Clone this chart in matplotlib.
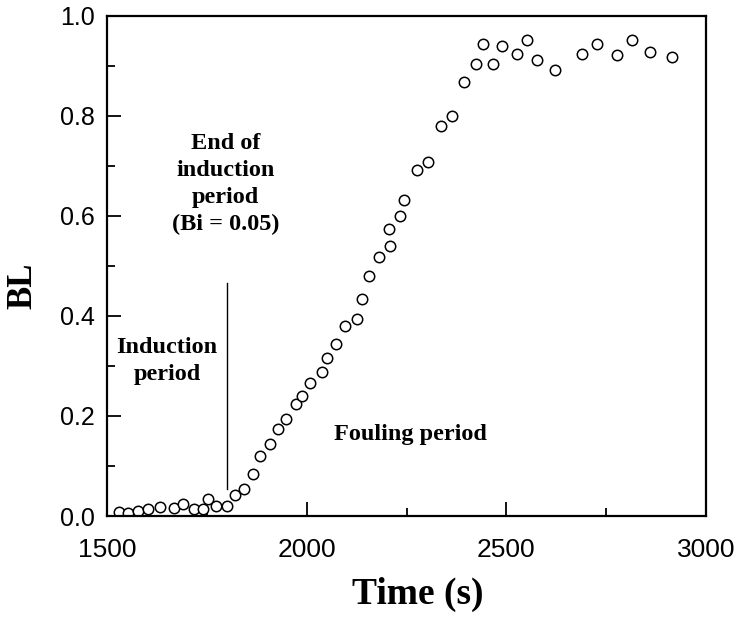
import matplotlib
matplotlib.use("Agg")
import matplotlib.pyplot as plt
from matplotlib.ticker import MultipleLocator

# time (s) and BL
time_s = [1531, 1553, 1578, 1603, 1633, 1668, 1690, 1718, 1741, 1754, 1773, 1801,
          1821, 1843, 1865, 1883, 1908, 1927, 1948, 1973, 1988, 2008,
          2038, 2050, 2073, 2096, 2127, 2138, 2156, 2182, 2209, 2207, 2234, 2244,
          2275, 2305, 2336, 2365, 2395, 2424, 2442, 2466, 2489, 2527, 2551, 2576,
          2623, 2689, 2727, 2776, 2815, 2860, 2914]
bl = [0.009, 0.007, 0.011, 0.014, 0.019, 0.017, 0.024, 0.015, 0.015, 0.034, 0.020, 0.020,
      0.042, 0.055, 0.085, 0.120, 0.143, 0.173, 0.194, 0.223, 0.240, 0.265,
      0.287, 0.316, 0.343, 0.379, 0.394, 0.434, 0.480, 0.517, 0.540, 0.573, 0.600, 0.631,
      0.691, 0.708, 0.779, 0.799, 0.867, 0.904, 0.943, 0.904, 0.939, 0.924, 0.952, 0.912,
      0.892, 0.924, 0.944, 0.922, 0.952, 0.928, 0.917]

end_induction = 1800
line_span = (0.055, 0.465)

serif = "Liberation Serif"
sans = "Liberation Sans"

fig = plt.figure(figsize=(7.37, 6.21), dpi=100)
ax = fig.add_axes([0.1452, 0.169, 0.8128, 0.806])

ax.plot(time_s, bl, "o", mfc="white", mec="black", ms=7.5, mew=1.1, ls="none")
ax.plot([end_induction, end_induction], line_span, color="black", lw=1.0)

ax.set_xlim(1500, 3000)
ax.set_ylim(0, 1.0)
ax.xaxis.set_major_locator(MultipleLocator(500))
ax.xaxis.set_minor_locator(MultipleLocator(250))
ax.yaxis.set_major_locator(MultipleLocator(0.2))
ax.yaxis.set_minor_locator(MultipleLocator(0.1))
ax.yaxis.set_major_formatter(plt.FuncFormatter(lambda v, p: f"{v:.1f}"))

ax.tick_params(which="both", direction="in", top=False, right=False, width=1.3)
ax.tick_params(which="major", length=10)
ax.tick_params(which="minor", length=6)
ax.tick_params(axis="y", which="major", labelsize=18, pad=9)
ax.tick_params(axis="x", which="major", labelsize=19, pad=16)
for lab in ax.get_xticklabels() + ax.get_yticklabels():
    lab.set_family(sans)

for sp in ax.spines.values():
    sp.set_linewidth(1.6)

ax.set_xlabel("Time (s)", fontsize=27, fontweight="bold", family=serif)
ax.xaxis.set_label_coords(0.519, -0.122)
ax.set_ylabel("BL", fontsize=25, fontweight="bold", family=serif)
ax.yaxis.set_label_coords(-0.112, 0.46)

txt = dict(fontsize=17.5, fontweight="bold", family=serif, ha="center", va="center",
           linespacing=1.37)
ax.text(1797, 0.664, "End of\ninduction\nperiod\n(Bi = 0.05)", **txt)
ax.text(1650, 0.31, "Induction\nperiod", **txt)
ax.text(2259, 0.163, "Fouling period", **txt)

fig.savefig("out.png", dpi=100)
